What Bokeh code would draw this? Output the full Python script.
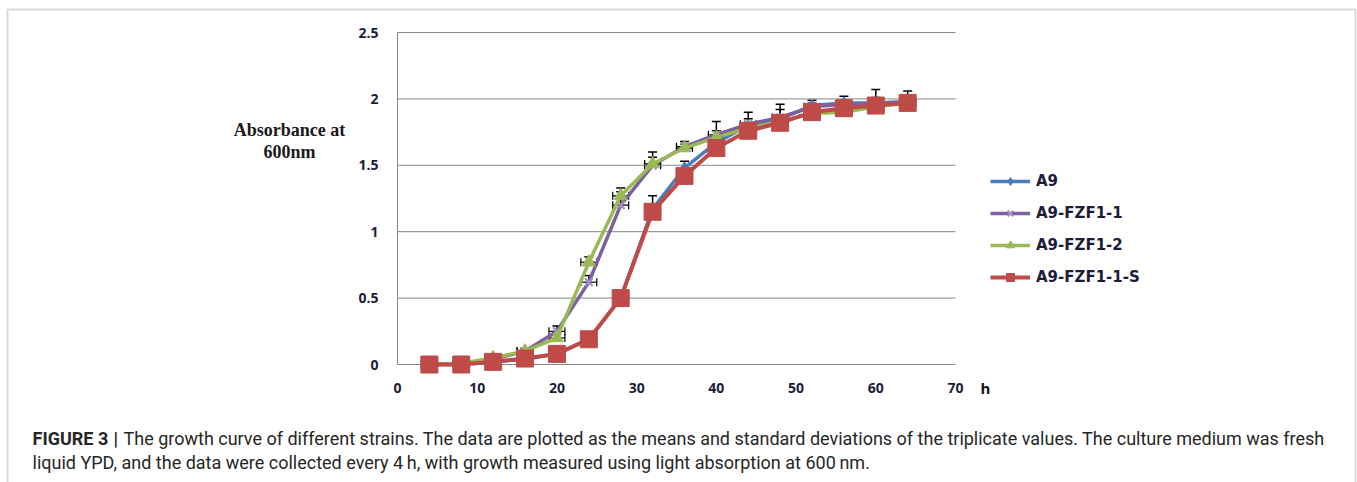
from bokeh.plotting import figure
from bokeh.models import (Range1d, Label, Legend, LegendItem, Whisker, TeeHead,
                          ColumnDataSource, BoxAnnotation)
from bokeh.core.properties import value
from bokeh.embed import file_html
from bokeh.resources import INLINE

# ---------------- data ----------------
hours = [4, 8, 12, 16, 20, 24, 28, 32, 36, 40, 44, 48, 52, 56, 60, 64]
a9 = [0.00, 0.00, 0.02, 0.04, 0.08, 0.19, 0.50, 1.17, 1.48, 1.67, 1.80, 1.85, 1.95, 1.97, 1.97, 1.98]
a9_fzf1_1 = [0.00, 0.01, 0.04, 0.10, 0.25, 0.62, 1.20, 1.50, 1.64, 1.73, 1.81, 1.86, 1.94, 1.96, 1.96, 1.98]
a9_fzf1_2 = [0.00, 0.01, 0.05, 0.10, 0.20, 0.77, 1.27, 1.51, 1.63, 1.71, 1.78, 1.83, 1.89, 1.90, 1.94, 1.97]
a9_fzf1_1_s = [0.00, 0.00, 0.02, 0.045, 0.08, 0.19, 0.50, 1.15, 1.42, 1.63, 1.76, 1.82, 1.90, 1.93, 1.95, 1.97]

a9_sd = [0.01, 0.01, 0.01, 0.01, 0.02, 0.02, 0.03, 0.10, 0.05, 0.05, 0.05, 0.11, 0.04, 0.05, 0.10, 0.08]
a9_fzf1_1_sd = [0.01, 0.01, 0.02, 0.02, 0.04, 0.05, 0.10, 0.06, 0.04, 0.10, 0.09, 0.06, 0.03, 0.03, 0.05, 0.04]
a9_fzf1_2_sd = [0.01, 0.01, 0.02, 0.02, 0.04, 0.04, 0.06, 0.09, 0.03, 0.05, 0.04, 0.04, 0.03, 0.03, 0.04, 0.03]
a9_fzf1_1_s_sd = [0.01, 0.01, 0.01, 0.01, 0.01, 0.02, 0.02, 0.03, 0.03, 0.03, 0.03, 0.03, 0.02, 0.02, 0.02, 0.02]
hour_sd = 1.0

series_names = ["A9", "A9-FZF1-1", "A9-FZF1-2", "A9-FZF1-1-S"]
x_ticks = [0, 10, 20, 30, 40, 50, 60, 70]
x_tick_labels = ["0", "10", "20", "30", "40", "50", "60", "70"]
y_ticks = [0, 0.5, 1, 1.5, 2, 2.5]
y_tick_labels = ["0", "0.5", "1", "1.5", "2", "2.5"]

y_title = "Absorbance at\n600nm"
x_title = "h"
caption_bold = "FIGURE 3"
caption_bar = "|"
caption_1 = ("The growth curve of different strains. The data are plotted as the means and standard "
             "deviations of the triplicate values. The culture medium was fresh")
caption_2 = ("liquid YPD, and the data were collected every 4\u2009h, with growth measured using "
             "light absorption at 600\u2009nm.")

# ---------------- layout ----------------
W, H = 1357, 482
FL, FR, FT, FB = 397, 955, 32, 364      # plot-area box in page pixels
XMAX, YMAX = x_ticks[-1], y_ticks[-1]


def dx(px):
    return (px - FL) * XMAX / (FR - FL)


def dy(py):
    return (FB - py) * YMAX / (FB - FT)


p = figure(width=W, height=H, output_backend="svg", toolbar_location=None,
           x_range=Range1d(dx(0), dx(W)), y_range=Range1d(dy(H), dy(0)),
           x_axis_location=None, y_axis_location=None, min_border=0)
p.outline_line_color = None
p.xgrid.visible = False
p.ygrid.visible = False
p.background_fill_color = "white"
p.border_fill_color = "white"

tick_font = "Open Sans"
tick_color = "#1c1c38"
axis_gray = "#868686"

# gridlines and axis lines
p.segment(x0=[x_ticks[0]] * len(y_ticks), x1=[x_ticks[-1]] * len(y_ticks),
          y0=y_ticks, y1=y_ticks, line_color=axis_gray, line_width=1)
p.segment(x0=[x_ticks[0]], x1=[x_ticks[0]], y0=[y_ticks[0]], y1=[y_ticks[-1]],
          line_color=axis_gray, line_width=1)

# tick labels
p.text(x=x_ticks, y=[dy(387)] * len(x_ticks), text=x_tick_labels, text_align="center",
       text_baseline="middle", text_font=value(tick_font), text_font_style="bold",
       text_font_size="14px", text_color=tick_color)
p.text(x=[dx(378)] * len(y_ticks), y=y_ticks, text=y_tick_labels, text_align="right",
       text_baseline="middle", text_font=value(tick_font), text_font_style="bold",
       text_font_size="14px", text_color=tick_color)

colors = ["#4a7ebb", "#7d60a0", "#98b954", "#be4b48"]
values = [a9, a9_fzf1_1, a9_fzf1_2, a9_fzf1_1_s]
sds = [a9_sd, a9_fzf1_1_sd, a9_fzf1_2_sd, a9_fzf1_1_s_sd]
markers = ["diamond", "x", "triangle", "square"]
msizes = [12, 11, 13, 17]
lwidths = [3.5, 3.5, 3.5, 4]

items = []
for name, vals, col, mk, ms, lw in zip(series_names, values, colors, markers, msizes, lwidths):
    src = ColumnDataSource(dict(x=hours, y=vals))
    lr = p.line("x", "y", source=src, line_color=col, line_width=lw)
    if mk == "x":
        mr = p.scatter("x", "y", source=src, marker=mk, size=ms, line_color="#a48fc4", line_width=2)
    else:
        mr = p.scatter("x", "y", source=src, marker=mk, size=ms, fill_color=col, line_color=col)
    items.append(LegendItem(label=name, renderers=[lr, mr]))

# error bars
for k, (vals, sd) in enumerate(zip(values, sds)):
    esrc = ColumnDataSource(dict(x=hours, y=vals,
                                 up=[v + s for v, s in zip(vals, sd)],
                                 xl=[h - hour_sd for h in hours],
                                 xu=[h + hour_sd for h in hours]))
    p.add_layout(Whisker(source=esrc, base="x", lower="y", upper="up", dimension="height",
                         line_color="black", line_width=1.5,
                         upper_head=TeeHead(size=9, line_color="black", line_width=1.5),
                         lower_head=None))
    if k in (1, 2):
        p.add_layout(Whisker(source=esrc, base="y", lower="xl", upper="xu", dimension="width",
                             line_color="black", line_width=1.2,
                             upper_head=TeeHead(size=8, line_color="black", line_width=1.2),
                             lower_head=TeeHead(size=8, line_color="black", line_width=1.2)))

legend = Legend(items=items, location=(990, H - 287), orientation="vertical",
                glyph_width=40, glyph_height=20, label_height=20, spacing=12,
                padding=5, margin=0, label_standoff=6,
                label_text_font="DejaVu Sans", label_text_font_style="bold",
                label_text_font_size="15px", label_text_color=tick_color,
                border_line_color=None, background_fill_alpha=0)
p.add_layout(legend, "center")

# axis titles
p.add_layout(Label(x=dx(289), y=dy(140), text=y_title, text_align="center",
                   text_baseline="middle", text_font="Liberation Serif", text_font_style="bold",
                   text_font_size="18px", text_color="#1a1a1a", text_line_height=1.1))
p.add_layout(Label(x=dx(985), y=dy(387), text=x_title, text_align="center", text_baseline="middle",
                   text_font=tick_font, text_font_style="bold", text_font_size="15px",
                   text_color="#111111"))

# caption
cap_font = "Roboto"
cap_size = "18px"
cap_color = "#262626"
p.add_layout(Label(x=dx(32), y=dy(438), text=caption_bold, text_baseline="middle",
                   text_font=cap_font, text_font_style="bold", text_font_size=cap_size,
                   text_color=cap_color))
p.add_layout(Label(x=dx(113), y=dy(438), text=caption_bar, text_baseline="middle",
                   text_font=cap_font, text_font_style="bold", text_font_size=cap_size,
                   text_color=cap_color))
p.add_layout(Label(x=dx(123), y=dy(438), text=caption_1, text_baseline="middle",
                   text_font=cap_font, text_font_size=cap_size, text_color=cap_color))
p.add_layout(Label(x=dx(32), y=dy(462), text=caption_2, text_baseline="middle",
                   text_font=cap_font, text_font_size=cap_size, text_color=cap_color))

# outer frame
p.add_layout(BoxAnnotation(left=dx(7), right=dx(1355), top=dy(9), bottom=dy(490),
                           fill_alpha=0, line_color="#808080", line_width=2))

open("out.html", "w").write(file_html(p, INLINE))
